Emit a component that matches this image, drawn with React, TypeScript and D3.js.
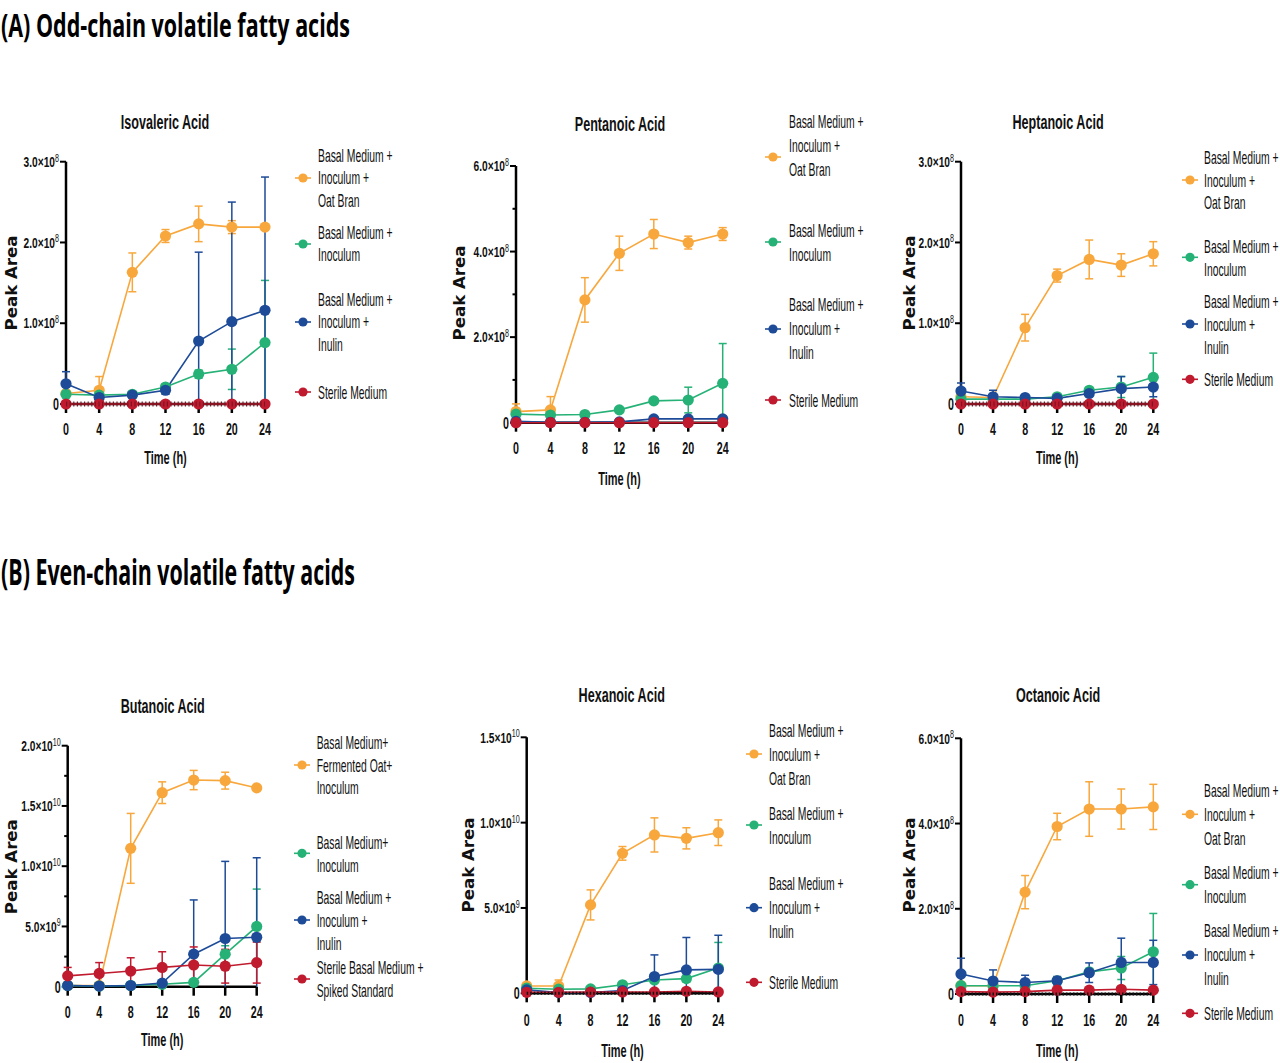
import * as d3 from 'd3'

// sampling times (h)
const times = [0, 4, 8, 12, 16, 20, 24]
const xTicks = [0, 4, 8, 12, 16, 20, 24]

// Isovaleric acid (x1e8)
const isoOat = [0.13, 0.17, 1.63, 2.08, 2.23, 2.19, 2.19]
const isoOatSd = [0.04, 0.17, 0.24, 0.08, 0.22, 0.08, 0.03]
const isoInoc = [0.12, 0.11, 0.12, 0.21, 0.37, 0.43, 0.76]
const isoInocSd = [0.02, 0.02, 0.02, 0.04, 0.05, 0.25, 0.77]
const isoInulin = [0.25, 0.08, 0.11, 0.17, 0.78, 1.02, 1.16]
const isoInulinSd = [0.15, 0.02, 0.02, 0.05, 1.1, 1.48, 1.65]
const isoSterile = [0, 0, 0, 0, 0, 0, 0]

// Pentanoic acid (x1e8)
const penOat = [0.26, 0.3, 2.87, 3.96, 4.41, 4.21, 4.41]
const penOatSd = [0.18, 0.31, 0.52, 0.4, 0.34, 0.15, 0.15]
const penInoc = [0.2, 0.18, 0.19, 0.3, 0.51, 0.53, 0.92]
const penInocSd = [0.03, 0.02, 0.03, 0.04, 0.05, 0.3, 0.93]
const penInulin = [0.03, 0.01, 0.01, 0.02, 0.09, 0.09, 0.09]
const penInulinSd = [0.01, 0, 0, 0.01, 0.02, 0.02, 0.02]
const penSterile = [0, 0, 0, 0, 0, 0, 0]

// Heptanoic acid (x1e8)
const hepOat = [0.09, 0.08, 0.945, 1.59, 1.79, 1.72, 1.86]
const hepOatSd = [0.03, 0.03, 0.165, 0.08, 0.24, 0.14, 0.15]
const hepInoc = [0.06, 0.06, 0.06, 0.09, 0.17, 0.21, 0.33]
const hepInocSd = [0.01, 0.01, 0.01, 0.02, 0.03, 0.13, 0.3]
const hepInulin = [0.16, 0.09, 0.08, 0.07, 0.13, 0.19, 0.21]
const hepInulinSd = [0.1, 0.08, 0.02, 0.02, 0.03, 0.15, 0.12]
const hepSterile = [0, 0, 0, 0, 0, 0, 0]

// Butanoic acid (x1e10)
const butOat = [0.01, 0.01, 1.148, 1.61, 1.715, 1.71, 1.65]
const butOatSd = [0.005, 0.005, 0.29, 0.09, 0.08, 0.07, 0.02]
const butInoc = [0.01, 0.005, 0.01, 0.02, 0.036, 0.27, 0.5]
const butInocSd = [0.005, 0.005, 0.005, 0.01, 0.01, 0.07, 0.31]
const butInulin = [0.01, 0.005, 0.01, 0.03, 0.27, 0.4, 0.41]
const butInulinSd = [0, 0, 0, 0.01, 0.45, 0.64, 0.66]
const butSpiked = [0.09, 0.11, 0.13, 0.16, 0.18, 0.17, 0.2]
const butSpikedSd = [0.07, 0.09, 0.11, 0.13, 0.15, 0.14, 0.17]

// Hexanoic acid (x1e10)
const hexOat = [0.043, 0.043, 0.518, 0.82, 0.928, 0.908, 0.941]
const hexOatSd = [0.02, 0.035, 0.088, 0.04, 0.1, 0.062, 0.075]
const hexInoc = [0.03, 0.024, 0.026, 0.05, 0.078, 0.086, 0.148]
const hexInocSd = [0.005, 0.005, 0.005, 0.008, 0.01, 0.02, 0.15]
const hexInulin = [0.02, 0.004, 0.005, 0.016, 0.098, 0.137, 0.14]
const hexInulinSd = [0.005, 0.002, 0.002, 0.005, 0.127, 0.19, 0.2]
const hexSterile = [0.006, 0.006, 0.007, 0.008, 0.008, 0.012, 0.008]

// Octanoic acid (x1e8)
const octOat = [0.195, 0.195, 2.39, 3.93, 4.34, 4.34, 4.39]
const octOatSd = [0.02, 0.02, 0.39, 0.31, 0.64, 0.47, 0.53]
const octInoc = [0.195, 0.195, 0.195, 0.31, 0.52, 0.61, 0.99]
const octInocSd = [0.02, 0.02, 0.03, 0.05, 0.08, 0.27, 0.9]
const octInulin = [0.47, 0.305, 0.27, 0.31, 0.5, 0.74, 0.74]
const octInulinSd = [0.37, 0.26, 0.17, 0.1, 0.23, 0.57, 0.52]
const octSterile = [0.055, 0.045, 0.055, 0.09, 0.09, 0.11, 0.09]
const octSterileSd = [0.01, 0.01, 0.01, 0.01, 0.01, 0.02, 0.01]

const zeros = [0, 0, 0, 0, 0, 0, 0]

const ticks3e8 = [0, 1e8, 2e8, 3e8]
const ticks6e8 = [0, 2e8, 4e8, 6e8]
const minor6e8 = [1e8, 3e8, 5e8]
const ticks2e10 = [0, 5e9, 1e10, 1.5e10, 2e10]
const minor2e10 = [2.5e9, 7.5e9, 1.25e10, 1.75e10]
const ticks15e10 = [0, 5e9, 1e10, 1.5e10]

const legendOat = ['Basal Medium +', 'Inoculum +', 'Oat Bran']
const legendInoc = ['Basal Medium +', 'Inoculum']
const legendInulin = ['Basal Medium +', 'Inoculum +', 'Inulin']
const legendSterile = ['Sterile Medium']
const legendFermOat = ['Basal Medium+', 'Fermented Oat+', 'Inoculum']
const legendInocB = ['Basal Medium+', 'Inoculum']
const legendSpiked = ['Sterile Basal Medium +', 'Spiked Standard']

const COLORS = {
  orange: '#f8a73c',
  green: '#26b276',
  blue: '#1d4b98',
  red: '#c01a2e',
}

const FONT = "'Liberation Sans', Arial, sans-serif"

type Series = {
  color: string
  values: number[]
  sd: number[]
  legend: string[]
  legendY: number
  markerY: number
}

type PanelProps = {
  title: string
  titleX: number
  titleY: number
  x0: number
  x1: number
  yTop: number
  yZero: number
  yMax: number
  unit: number
  ticks: number[]
  minor?: number[]
  ylabelX: number
  ylabelY: number
  xTickY: number
  xLabelY: number
  legendMx: number
  legendTx: number
  legendGap: number
  baseline: 'red' | 'black' | 'none'
  series: Series[]
}

// narrow text: normal font squeezed horizontally
function NText({ x, y, size, weight = 'normal', anchor = 'start', scale = 0.72, children }: any) {
  return (
    <text
      transform={`translate(${x},${y}) scale(${scale},1)`}
      fontSize={size}
      fontWeight={weight}
      textAnchor={anchor}
      dy="0.35em"
      fontFamily={FONT}
      fill="#111"
    >
      {children}
    </text>
  )
}

function TickLabel({ x, y, value }: { x: number; y: number; value: number }) {
  if (value === 0) {
    return <NText x={x} y={y} size={17} weight="bold" anchor="end" scale={0.63}>0</NText>
  }
  const exp = Math.floor(Math.log10(value) + 1e-9)
  const mant = (value / Math.pow(10, exp)).toFixed(1)
  return (
    <NText x={x} y={y} size={15} weight="bold" anchor="end" scale={0.68}>
      <tspan>{`${mant}×10`}</tspan>
      <tspan dy="-0.5em" fontSize="10.5" fontWeight="normal">{exp}</tspan>
    </NText>
  )
}

function Panel(p: PanelProps) {
  const x = d3.scaleLinear().domain([0, 24]).range([p.x0, p.x1])
  const y = d3.scaleLinear().domain([0, p.yMax]).range([p.yZero, p.yTop])
  const line = d3
    .line<number>()
    .x((_, i) => x(times[i]))
    .y((v) => y(v * p.unit))

  return (
    <g>
      <NText x={p.titleX} y={p.titleY} size={21} weight="bold" anchor="middle" scale={0.6}>{p.title}</NText>

      <text
        transform={`translate(${p.ylabelX},${p.ylabelY}) rotate(-90)`}
        textAnchor="middle"
        dy="0.35em"
        fontFamily="'DejaVu Sans', sans-serif"
        fontWeight="bold"
        fontSize={15}
        textLength={95}
        lengthAdjust="spacingAndGlyphs"
        fill="#111"
      >
        Peak Area
      </text>

      {/* y axis */}
      <line x1={p.x0} x2={p.x0} y1={p.yTop} y2={p.yZero} stroke="#000" strokeWidth={2.5} />
      {p.ticks.map((t) => (
        <g key={t}>
          <line x1={p.x0 - 6} x2={p.x0} y1={y(t)} y2={y(t)} stroke="#000" strokeWidth={2} />
          <TickLabel x={p.x0 - 7} y={y(t)} value={t} />
        </g>
      ))}
      {(p.minor ?? []).map((t) => (
        <line key={t} x1={p.x0 - 3.5} x2={p.x0} y1={y(t)} y2={y(t)} stroke="#000" strokeWidth={2} />
      ))}

      {/* x axis */}
      <line x1={p.x0} x2={p.x1} y1={p.yZero} y2={p.yZero} stroke="#000" strokeWidth={2.5} />
      {xTicks.map((t) => (
        <g key={t}>
          <line x1={x(t)} x2={x(t)} y1={p.yZero} y2={p.yZero + 9} stroke="#000" strokeWidth={2.5} />
          <NText x={x(t)} y={p.xTickY} size={17} weight="bold" anchor="middle" scale={0.63}>{t}</NText>
        </g>
      ))}
      <NText x={(p.x0 + p.x1) / 2} y={p.xLabelY} size={18} weight="bold" anchor="middle" scale={0.61}>Time (h)</NText>

      {/* series */}
      {p.series.map((s, si) => (
        <g key={si}>
          <path d={line(s.values) ?? ''} fill="none" stroke={s.color} strokeWidth={1.6} />
          {s.values.map((v, i) => {
            const sd = s.sd[i]
            if (sd <= 0) return null
            const cx = x(times[i])
            const top = y((v + sd) * p.unit)
            const bot = y(Math.max(0, (v - sd) * p.unit))
            return (
              <g key={i} stroke={s.color} strokeWidth={1.5}>
                <line x1={cx} x2={cx} y1={top} y2={bot} />
                <line x1={cx - 4} x2={cx + 4} y1={top} y2={top} />
                {v - sd > 0 && <line x1={cx - 4} x2={cx + 4} y1={bot} y2={bot} />}
              </g>
            )
          })}
        </g>
      ))}
      {p.series.map((s, si) => (
        <g key={si}>
          {s.values.map((v, i) => (
            <circle key={i} cx={x(times[i])} cy={y(v * p.unit)} r={5.6} fill={s.color} />
          ))}
        </g>
      ))}

      {p.baseline !== 'none' && (
        <line
          x1={p.x0}
          x2={p.x1}
          y1={p.yZero}
          y2={p.yZero}
          stroke={p.baseline === 'red' ? '#7d1424' : '#111'}
          strokeWidth={p.baseline === 'red' ? 5 : 3}
          strokeDasharray={p.baseline === 'red' ? '1.2 2.4' : '1.5 2'}
        />
      )}

      {/* legend */}
      {p.series.map((s, si) => (
        <g key={si}>
          <line x1={p.legendMx - 8} x2={p.legendMx + 8} y1={s.markerY} y2={s.markerY} stroke={s.color} strokeWidth={1.6} />
          <circle cx={p.legendMx} cy={s.markerY} r={4.6} fill={s.color} />
          {s.legend.map((txt, li) => (
            <NText key={li} x={p.legendTx} y={s.legendY + li * p.legendGap} size={19} scale={0.545}>
              {txt}
            </NText>
          ))}
        </g>
      ))}
    </g>
  )
}

export default function App() {
  return (
    <svg
      width={1280}
      height={1063}
      viewBox="0 0 1280 1063"
      style={{ position: 'absolute', left: 0, top: 0, background: '#fff' }}
    >
      <rect width={1280} height={1063} fill="#fff" />
      <text
        x={1}
        y={37}
        fontFamily="'Open Sans', sans-serif"
        fontWeight="bold"
        fontSize={33}
        textLength={349}
        lengthAdjust="spacingAndGlyphs"
        fill="#000"
      >
        (A) Odd-chain volatile fatty acids
      </text>
      <text
        x={1}
        y={585}
        fontFamily="'Open Sans', sans-serif"
        fontWeight="bold"
        fontSize={35}
        textLength={354}
        lengthAdjust="spacingAndGlyphs"
        fill="#000"
      >
        (B) Even-chain volatile fatty acids
      </text>

      <Panel
        title="Isovaleric Acid" titleX={165} titleY={122}
        x0={66} x1={265} yTop={161.7} yZero={404} yMax={3e8} unit={1e8}
        ticks={ticks3e8}
        ylabelX={12} ylabelY={283} xTickY={429} xLabelY={458}
        legendMx={303} legendTx={318} legendGap={22.7} baseline="red"
        series={[
          { color: COLORS.orange, values: isoOat, sd: isoOatSd, legend: legendOat, legendY: 155, markerY: 178 },
          { color: COLORS.green, values: isoInoc, sd: isoInocSd, legend: legendInoc, legendY: 232, markerY: 244 },
          { color: COLORS.blue, values: isoInulin, sd: isoInulinSd, legend: legendInulin, legendY: 299, markerY: 322 },
          { color: COLORS.red, values: isoSterile, sd: zeros, legend: legendSterile, legendY: 392, markerY: 392 },
        ]}
      />
      <Panel
        title="Pentanoic Acid" titleX={620} titleY={124}
        x0={516} x1={722.7} yTop={166} yZero={422.7} yMax={6e8} unit={1e8}
        ticks={ticks6e8} minor={minor6e8}
        ylabelX={460} ylabelY={293} xTickY={448} xLabelY={479}
        legendMx={773} legendTx={789} legendGap={24.2} baseline="none"
        series={[
          { color: COLORS.orange, values: penOat, sd: penOatSd, legend: legendOat, legendY: 121, markerY: 157 },
          { color: COLORS.green, values: penInoc, sd: penInocSd, legend: legendInoc, legendY: 230, markerY: 242 },
          { color: COLORS.blue, values: penInulin, sd: penInulinSd, legend: legendInulin, legendY: 304, markerY: 329 },
          { color: COLORS.red, values: penSterile, sd: zeros, legend: legendSterile, legendY: 400, markerY: 400 },
        ]}
      />
      <Panel
        title="Heptanoic Acid" titleX={1058} titleY={122}
        x0={961} x1={1153.3} yTop={161.7} yZero={404} yMax={3e8} unit={1e8}
        ticks={ticks3e8}
        ylabelX={910} ylabelY={283} xTickY={429} xLabelY={458}
        legendMx={1190} legendTx={1204} legendGap={22.7} baseline="red"
        series={[
          { color: COLORS.orange, values: hepOat, sd: hepOatSd, legend: legendOat, legendY: 157.3, markerY: 180 },
          { color: COLORS.green, values: hepInoc, sd: hepInocSd, legend: legendInoc, legendY: 246.7, markerY: 257.3 },
          { color: COLORS.blue, values: hepInulin, sd: hepInulinSd, legend: legendInulin, legendY: 301.7, markerY: 324 },
          { color: COLORS.red, values: hepSterile, sd: zeros, legend: legendSterile, legendY: 379.3, markerY: 379.3 },
        ]}
      />
      <Panel
        title="Butanoic Acid" titleX={162.7} titleY={706}
        x0={67.7} x1={256.7} yTop={745.7} yZero={986.7} yMax={2e10} unit={1e10}
        ticks={ticks2e10} minor={minor2e10}
        ylabelX={12} ylabelY={866.7} xTickY={1011.7} xLabelY={1040}
        legendMx={302} legendTx={316.7} legendGap={22.6} baseline="none"
        series={[
          { color: COLORS.orange, values: butOat, sd: butOatSd, legend: legendFermOat, legendY: 742.3, markerY: 765 },
          { color: COLORS.green, values: butInoc, sd: butInocSd, legend: legendInocB, legendY: 842.7, markerY: 853.3 },
          { color: COLORS.blue, values: butInulin, sd: butInulinSd, legend: legendInulin, legendY: 897.7, markerY: 920 },
          { color: COLORS.red, values: butSpiked, sd: butSpikedSd, legend: legendSpiked, legendY: 967.7, markerY: 979 },
        ]}
      />
      <Panel
        title="Hexanoic Acid" titleX={621.7} titleY={695}
        x0={526.7} x1={718.3} yTop={737.3} yZero={993.3} yMax={1.5e10} unit={1e10}
        ticks={ticks15e10}
        ylabelX={469} ylabelY={865} xTickY={1020} xLabelY={1050.7}
        legendMx={754} legendTx={769} legendGap={24.2} baseline="black"
        series={[
          { color: COLORS.orange, values: hexOat, sd: hexOatSd, legend: legendOat, legendY: 730, markerY: 754 },
          { color: COLORS.green, values: hexInoc, sd: hexInocSd, legend: legendInoc, legendY: 813.3, markerY: 825 },
          { color: COLORS.blue, values: hexInulin, sd: hexInulinSd, legend: legendInulin, legendY: 883.3, markerY: 907.7 },
          { color: COLORS.red, values: hexSterile, sd: zeros, legend: legendSterile, legendY: 982.3, markerY: 982.3 },
        ]}
      />
      <Panel
        title="Octanoic Acid" titleX={1058} titleY={695}
        x0={961} x1={1153.3} yTop={738.3} yZero={994} yMax={6e8} unit={1e8}
        ticks={ticks6e8}
        ylabelX={910} ylabelY={865} xTickY={1020} xLabelY={1050.7}
        legendMx={1190} legendTx={1204} legendGap={24} baseline="black"
        series={[
          { color: COLORS.orange, values: octOat, sd: octOatSd, legend: legendOat, legendY: 790, markerY: 814.3 },
          { color: COLORS.green, values: octInoc, sd: octInocSd, legend: legendInoc, legendY: 872.7, markerY: 884.7 },
          { color: COLORS.blue, values: octInulin, sd: octInulinSd, legend: legendInulin, legendY: 930, markerY: 955 },
          { color: COLORS.red, values: octSterile, sd: octSterileSd, legend: legendSterile, legendY: 1013.3, markerY: 1013.3 },
        ]}
      />
    </svg>
  )
}
